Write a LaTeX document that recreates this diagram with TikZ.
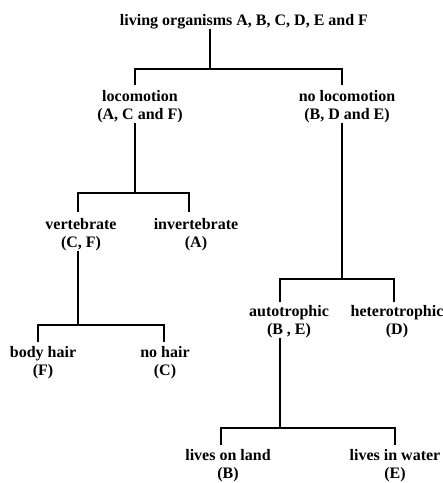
\documentclass[tikz,border=0pt]{standalone}
\usepackage{fontspec}
\setmainfont{Liberation Serif}
\begin{document}
\begin{tikzpicture}[x=1pt,y=-1pt,
  lbl/.style={font=\bfseries\fontsize{16}{18}\selectfont, align=center, anchor=base, inner sep=0pt},
  br/.style={line width=1.6pt}]
\useasboundingbox (0,0) rectangle (443,483);
% labels (anchor = baseline of last line)
\node[lbl] (root) at (244,25) {living organisms A, B, C, D, E and F};
\node[lbl] (loc) at (140,119) {locomotion\\(A, C and F)};
\node[lbl] (noloc) at (347,119) {no locomotion\\(B, D and E)};
\node[lbl] (vert) at (81,247) {vertebrate\\(C, F)};
\node[lbl] (invert) at (196,247) {invertebrate\\(A)};
\node[lbl] (auto) at (289,334) {autotrophic\\(B , E)};
\node[lbl] (hetero) at (397,334) {heterotrophic\\(D)};
\node[lbl] (body) at (43,375) {body hair\\(F)};
\node[lbl] (nohair) at (165,375) {no hair\\(C)};
\node[lbl] (land) at (228,478) {lives on land\\(B)};
\node[lbl] (water) at (395,478) {lives in water\\(E)};
% junctions and branch ends
\coordinate (j0) at (210,69);
\coordinate (a1) at (135,85);  \coordinate (a2) at (342,85);
\coordinate (j1) at (135,193);
\coordinate (b1) at (78,212);  \coordinate (b2) at (189,212);
\coordinate (j2) at (342,279);
\coordinate (c1) at (280,302); \coordinate (c2) at (394,302);
\coordinate (j3) at (78,325);
\coordinate (d1) at (38,342);  \coordinate (d2) at (164,342);
\coordinate (j4) at (280,428);
\coordinate (e1) at (221,445); \coordinate (e2) at (395,445);
% connectors
\draw[br] (root.south -| j0) -- (j0);
\draw[br] (a1) |- (j0) -| (a2);
\draw[br] (loc.south -| j1) -- (j1);
\draw[br] (b1) |- (j1) -| (b2);
\draw[br] (noloc.south -| j2) -- (j2);
\draw[br] (c1) |- (j2) -| (c2);
\draw[br] (vert.south -| j3) -- (j3);
\draw[br] (d1) |- (j3) -| (d2);
\draw[br] (auto.south -| j4) -- (j4);
\draw[br] (e1) |- (j4) -| (e2);
\end{tikzpicture}
\end{document}
